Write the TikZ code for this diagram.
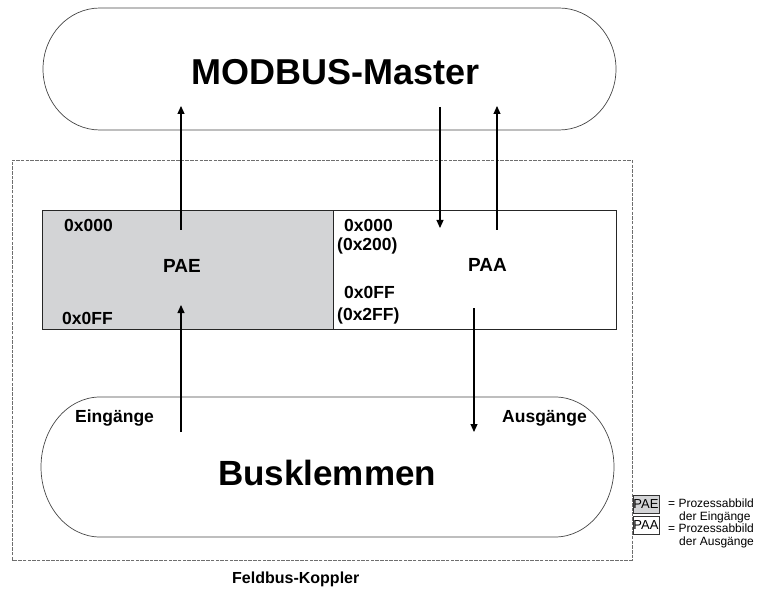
\documentclass[tikz,border=0pt]{standalone}
\usepackage{fontspec}
\setmainfont{Liberation Sans}
\usetikzlibrary{arrows.meta}
\definecolor{paegray}{RGB}{211,212,214}
\definecolor{linegray}{RGB}{70,70,70}
\definecolor{dashgray}{RGB}{110,110,110}
\tikzset{
  stadium/.style={draw=linegray, line width=0.7pt},
  imagebox/.style={draw=black!85, line width=0.8pt},
  flow/.style={line width=1.1pt, -{Triangle[length=8pt,width=7pt]}},
  lbl/.style={inner sep=0pt, anchor=base west, font=\bfseries\fontsize{17.5}{20}\selectfont},
  big/.style={inner sep=0pt, anchor=base west, font=\bfseries\fontsize{36}{40}\selectfont},
  legtext/.style={inner sep=0pt, anchor=base west, font=\fontsize{12}{14}\selectfont},
  legbox/.style={draw=black!80, line width=0.6pt, minimum width=26pt, minimum height=18pt, inner sep=0pt, font=\fontsize{13}{15}\selectfont}
}
\begin{document}
\begin{tikzpicture}[x=1pt,y=1pt]
\useasboundingbox (0,0) rectangle (760,590);
% Feldbus-Koppler dashed frame
\draw[dashgray, line width=0.7pt, dash pattern=on 3.5pt off 1.2pt] (12,30) rectangle (632,430);
% top stadium
\draw[stadium] (100,582) -- (559,582) arc[start angle=90, end angle=-90, x radius=57, y radius=61]
  -- (100,460) arc[start angle=270, end angle=90, x radius=57, y radius=61] -- cycle;
\node[big] (master) at (191,505) {MODBUS-Master};
% bottom stadium
\draw[stadium] (100,193) -- (555,193) arc[start angle=90, end angle=-90, x radius=59, y radius=70]
  -- (100,53) arc[start angle=270, end angle=90, x radius=59, y radius=70] -- cycle;
\node[big, font=\bfseries\fontsize{35}{40}\selectfont] (bus) at (218,105) {Busklemmen};
\node[lbl] (ein) at (75,168) {Eingänge};
\node[lbl] (aus) at (502,168) {Ausgänge};
% process images
\fill[paegray] (42,261) rectangle (333,380);
\draw[imagebox] (42,261) rectangle (616,380);
\draw[imagebox] (333,261) -- (333,380);
\node[lbl] (pae0) at (64,359) {0x000};
\node[lbl] (paeF) at (62,266) {0x0FF};
\node[lbl, font=\bfseries\fontsize{19}{22}\selectfont] (pae) at (163,318) {PAE};
\node[lbl] (paa0) at (344,358) {0x000};
\node[lbl] (paa0b) at (337,340) {(0x200)};
\node[lbl] (paaF) at (344,292) {0x0FF};
\node[lbl] (paaFb) at (337,270) {(0x2FF)};
\node[lbl, font=\bfseries\fontsize{19}{22}\selectfont] (paa) at (468,319) {PAA};
\node[lbl, font=\bfseries\fontsize{16}{19}\selectfont] (koppler) at (232,7) {Feldbus-Koppler};
% arrow end points
\coordinate (a1s) at (181,360); \coordinate (a1e) at (181,484);
\coordinate (a2s) at (440,483); \coordinate (a2e) at (440,362);
\coordinate (a3s) at (497,360); \coordinate (a3e) at (497,484);
\coordinate (a4s) at (181,158); \coordinate (a4e) at (181,285);
\coordinate (a5s) at (474,282); \coordinate (a5e) at (474,158);
\draw[flow] (a1s) -- (a1e);
\draw[flow] (a2s) -- (a2e);
\draw[flow] (a3s) -- (a3e);
\draw[flow] (a4s) -- (a4e);
\draw[flow] (a5s) -- (a5e);
% legend
\node[legbox, fill=paegray] (lpae) at (646,86) {PAE};
\node[legbox, fill=white] (lpaa) at (646,65) {PAA};
\node[legtext] (l1) at (668,83) {= Prozessabbild};
\node[legtext] (l2) at (679,70) {der Eingänge};
\node[legtext] (l3) at (668,58) {= Prozessabbild};
\node[legtext] (l4) at (679,45) {der Ausgänge};
\end{tikzpicture}
\end{document}
